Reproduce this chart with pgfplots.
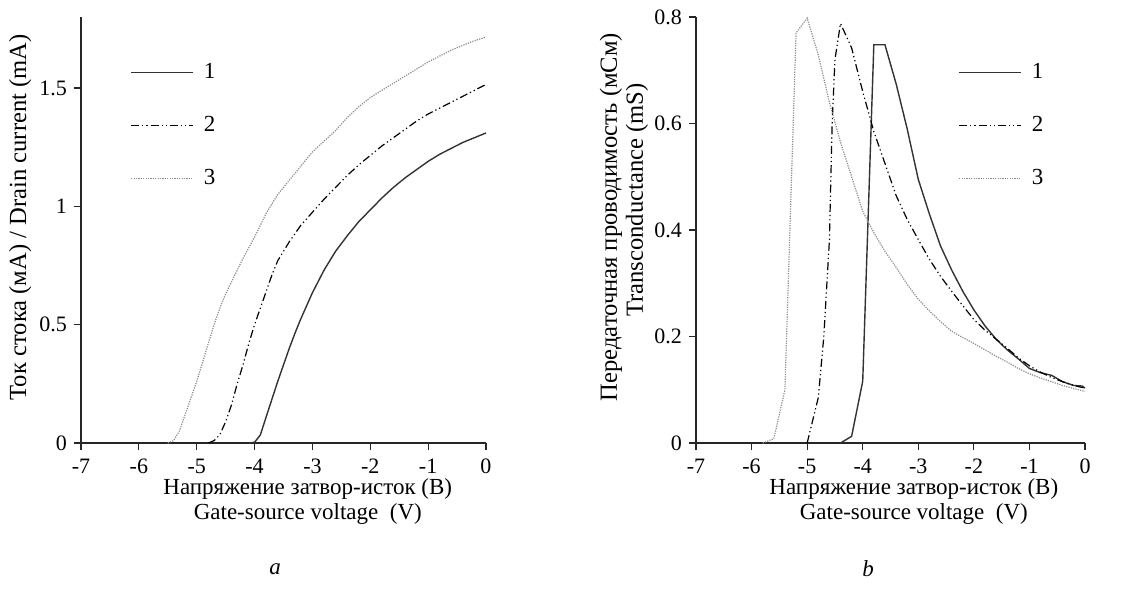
\documentclass[border=0pt]{standalone}
\usepackage{fontspec}
\setmainfont{Liberation Serif}
\usepackage{pgfplots}
\pgfplotsset{compat=1.18}

\pgfplotsset{
  vgs/.style={
    scale only axis,
    axis lines=left,
    axis line style={-, black!85, line width=0.6pt},
    xmin=-7, xmax=0, xtick={-7,-6,...,0}, ymin=0,
    tick align=outside, major tick length=3.5pt,
    tick style={black!85, line width=0.6pt},
    /pgf/number format/assume math mode=true,
    tick label style={font=\fontsize{11}{12}\selectfont},
    xticklabel style={yshift=-1pt},
    xlabel style={align=center, anchor=north, font=\fontsize{11.5}{12.3}\selectfont},
    ylabel style={align=center, anchor=center, font=\fontsize{12.3}{13}\selectfont},
    legend style={draw=none, fill=none, inner sep=0pt, anchor=west,
      row sep=15.5pt, column sep=4pt, font=\fontsize{11.5}{12}\selectfont,
      nodes={inner sep=1pt}},
    legend image code/.code={\draw[##1] (0pt,0pt) -- (31pt,0pt);},
    legend cell align=left,
    clip=false,
  },
  c1/.style={black!80, line width=0.7pt},
  c2/.style={black, line width=0.6pt, dash pattern=on 4pt off 1.5pt on 0.6pt off 1.5pt on 0.6pt off 1.5pt},
  c3/.style={black!45, line width=0.6pt, dash pattern=on 0.6pt off 0.6pt},
}

\begin{document}
\begin{tikzpicture}
\useasboundingbox (0,0) rectangle (571.5pt,299.5pt);

% a: drain current
\begin{axis}[vgs,
  at={(40.5pt,78pt)}, anchor=south west,
  width=202.5pt, height=213pt,
  ymax=1.8, ytick={0,0.5,1,1.5},
  ylabel={Ток стока (мА) / Drain current (mA)},
  ylabel style={at={(axis description cs:-0.15,0.53)}},
  xlabel={Напряжение затвор-исток (В)\\Gate-source voltage\ \ (V)},
  xlabel style={at={(axis description cs:0.56,-0.068)}},
  legend style={at={(axis description cs:0.121,0.745)}},
  ]
  \addplot[c1] coordinates {
    (-4.1,0) (-4.0,0.003) (-3.9,0.034) (-3.8,0.11) (-3.7,0.185) (-3.6,0.26)
    (-3.5,0.33) (-3.4,0.40) (-3.3,0.465) (-3.2,0.525) (-3.1,0.58) (-3.0,0.635)
    (-2.8,0.73) (-2.6,0.81) (-2.4,0.875) (-2.2,0.935) (-2.0,0.985) (-1.8,1.035)
    (-1.6,1.08) (-1.4,1.12) (-1.2,1.155) (-1.0,1.19) (-0.8,1.22) (-0.6,1.245)
    (-0.4,1.27) (-0.2,1.29) (0,1.31)
  };
  \addlegendentry{1}
  \addplot[c2] coordinates {
    (-4.8,0) (-4.7,0.01) (-4.6,0.035) (-4.5,0.09) (-4.4,0.16) (-4.3,0.25)
    (-4.2,0.33) (-4.1,0.42) (-4.0,0.50) (-3.9,0.57) (-3.8,0.64) (-3.7,0.71)
    (-3.6,0.77) (-3.4,0.85) (-3.2,0.92) (-3.0,0.975) (-2.8,1.03) (-2.6,1.08)
    (-2.4,1.13) (-2.2,1.175) (-2.0,1.215) (-1.8,1.255) (-1.6,1.29) (-1.4,1.325)
    (-1.2,1.36) (-1.0,1.39) (-0.8,1.415) (-0.6,1.44) (-0.4,1.465) (-0.2,1.49)
    (0,1.515)
  };
  \addlegendentry{2}
  \addplot[c3] coordinates {
    (-5.5,0) (-5.4,0.01) (-5.3,0.05) (-5.2,0.12) (-5.1,0.19) (-5.0,0.26)
    (-4.9,0.34) (-4.8,0.42) (-4.7,0.50) (-4.6,0.57) (-4.5,0.63) (-4.4,0.68)
    (-4.2,0.78) (-4.0,0.87) (-3.8,0.97) (-3.6,1.05) (-3.4,1.11) (-3.2,1.17)
    (-3.0,1.23) (-2.8,1.275) (-2.6,1.32) (-2.4,1.375) (-2.2,1.42) (-2.0,1.46)
    (-1.8,1.49) (-1.6,1.52) (-1.4,1.55) (-1.2,1.58) (-1.0,1.61) (-0.8,1.635)
    (-0.6,1.66) (-0.4,1.68) (-0.2,1.70) (0,1.715)
  };
  \addlegendentry{3}
\end{axis}

% b: transconductance
\begin{axis}[vgs,
  at={(348pt,78pt)}, anchor=south west,
  width=194.5pt, height=213pt,
  ymax=0.8, ytick={0,0.2,0.4,0.6,0.8},
  ylabel={Передаточная проводимость (мСм)\\\hspace*{17pt}Transconductance (mS)},
  ylabel style={at={(axis description cs:-0.185,0.53)}},
  xlabel={Напряжение затвор-исток (В)\\Gate-source voltage\ \ (V)},
  xlabel style={at={(axis description cs:0.56,-0.068)}},
  legend style={at={(axis description cs:0.674,0.745)}},
  ]
  \addplot[c1] coordinates {
    (-4.4,0) (-4.2,0.0125) (-4.0,0.116) (-3.8,0.748) (-3.6,0.748) (-3.4,0.675)
    (-3.2,0.59) (-3.0,0.495) (-2.8,0.43) (-2.6,0.37) (-2.4,0.325) (-2.2,0.285)
    (-2.0,0.25) (-1.8,0.22) (-1.6,0.195) (-1.4,0.175) (-1.2,0.158) (-1.0,0.14)
    (-0.8,0.132) (-0.6,0.127) (-0.4,0.115) (-0.2,0.108) (-0.05,0.107) (0,0.103)
  };
  \addlegendentry{1}
  \addplot[c2] coordinates {
    (-5.0,0) (-4.8,0.085) (-4.7,0.2) (-4.6,0.38) (-4.55,0.6) (-4.5,0.72)
    (-4.4,0.788) (-4.2,0.742) (-4.0,0.66) (-3.8,0.585) (-3.6,0.525) (-3.4,0.465)
    (-3.2,0.42) (-3.0,0.382) (-2.8,0.345) (-2.6,0.313) (-2.4,0.285) (-2.2,0.258)
    (-2.0,0.232) (-1.8,0.212) (-1.6,0.195) (-1.4,0.178) (-1.2,0.16) (-1.0,0.145)
    (-0.8,0.133) (-0.6,0.123) (-0.4,0.115) (-0.2,0.108) (0,0.103)
  };
  \addlegendentry{2}
  \addplot[c3] coordinates {
    (-5.8,0) (-5.6,0.008) (-5.4,0.1) (-5.2,0.77) (-5.0,0.798) (-4.8,0.729)
    (-4.6,0.64) (-4.4,0.565) (-4.2,0.5) (-4.0,0.435) (-3.8,0.395) (-3.6,0.36)
    (-3.4,0.33) (-3.2,0.298) (-3.0,0.27) (-2.8,0.248) (-2.6,0.228) (-2.4,0.21)
    (-2.2,0.198) (-2.0,0.187) (-1.8,0.175) (-1.6,0.163) (-1.4,0.152) (-1.2,0.14)
    (-1.0,0.13) (-0.8,0.122) (-0.6,0.115) (-0.4,0.108) (-0.2,0.102) (0,0.097)
  };
  \addlegendentry{3}
\end{axis}

\node[font=\fontsize{11.5}{12}\selectfont\itshape] at (137.5pt,15pt) {a};
\node[font=\fontsize{11.5}{12}\selectfont\itshape] at (434pt,15pt) {b};
\end{tikzpicture}
\end{document}
